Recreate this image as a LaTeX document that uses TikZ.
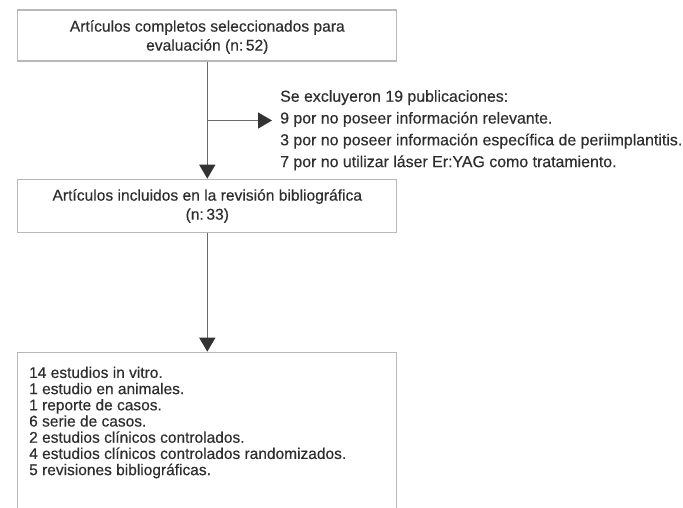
\documentclass[tikz,border=0pt]{standalone}
\usepackage{fontspec}
\setmainfont{Liberation Sans}[FakeBold=0.35]
\usetikzlibrary{arrows.meta}
\definecolor{txt}{HTML}{2E2E2E}
\definecolor{boxc}{HTML}{B8B8B8}
\definecolor{linec}{HTML}{6A6A6A}
\definecolor{tipc}{HTML}{333333}
\tikzset{
  box/.style={draw=boxc, line width=1.2pt, minimum width=379pt, inner sep=0pt},
  boxtext/.style={text=txt, font=\fontsize{15.6}{19}\selectfont, align=center, inner sep=0pt},
  listtext/.style={text=txt, font=\fontsize{15.5}{16.2}\selectfont, align=left, inner sep=0pt, anchor=north west},
  excltext/.style={text=txt, font=\fontsize{15.9}{21.8}\selectfont, align=left, inner sep=0pt, anchor=north west},
  arr/.style={draw=linec, line width=1.3pt, -{Triangle[length=14pt, width=16pt, color=tipc]}},
  ln/.style={draw=linec, line width=1.3pt}
}
\begin{document}
\begin{tikzpicture}[x=1pt,y=-1pt]
\useasboundingbox (0,0) rectangle (683,507);
\clip (0,0) rectangle (683,507);
\fill[white] (0,0) rectangle (683,507);
% boxes
\node[box, minimum height=51pt] (b1) at (207.3,35.5) {};
\node[boxtext] (t1) at (207.3,37) {Artículos completos seleccionados para\\evaluación (n:\,52)};
\node[box, minimum height=53pt] (b2) at (207.3,205.8) {};
\node[boxtext] (t2) at (207.3,206) {Artículos incluidos en la revisión bibliográfica\\(n:\,33)};
\node[box, minimum height=200pt, anchor=north] (b3) at (207.3,351.7) {};
\node[listtext] (t3) at (29,366.5) {14 estudios in vitro.\\1 estudio en animales.\\1 reporte de casos.\\6 serie de casos.\\2 estudios clínicos controlados.\\4 estudios clínicos controlados randomizados.\\5 revisiones bibliográficas.};
% exclusion text
\node[excltext] (ex) at (280,90) {Se excluyeron 19 publicaciones:\\9 por no poseer información relevante.\\3 por no poseer información específica de periimplantitis.\\7 por no utilizar láser Er:YAG como tratamiento.};
% connectors
\coordinate (br) at (207.3,120.5);
\draw[arr] (b1.south) -- (b2.north);
\draw[arr, shorten >=8pt] (br) -- (br -| ex.west);
\draw[arr] (b2.south) -- (b3.north);
\end{tikzpicture}
\end{document}
